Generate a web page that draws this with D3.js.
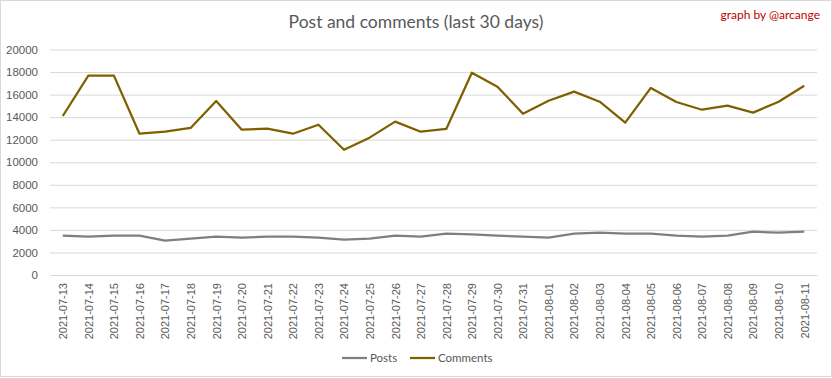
<!DOCTYPE html>
<html>
<head>
<meta charset="utf-8">
<script src="https://cdn.jsdelivr.net/npm/d3@7"></script>
<style>
  body { margin: 0; background: #fff; }
  svg { display: block; font-family: Lato, "Open Sans", sans-serif; }
</style>
</head>
<body>
<svg width="832" height="378"></svg>
<script>
const dates = ["2021-07-13","2021-07-14","2021-07-15","2021-07-16","2021-07-17","2021-07-18","2021-07-19","2021-07-20",
  "2021-07-21","2021-07-22","2021-07-23","2021-07-24","2021-07-25","2021-07-26","2021-07-27","2021-07-28",
  "2021-07-29","2021-07-30","2021-07-31","2021-08-01","2021-08-02","2021-08-03","2021-08-04","2021-08-05",
  "2021-08-06","2021-08-07","2021-08-08","2021-08-09","2021-08-10","2021-08-11"];

const posts = [3490,3400,3490,3490,3040,3220,3400,3310,3400,3400,3310,3130,3220,3490,3400,3660,
  3610,3490,3400,3310,3660,3750,3660,3660,3490,3400,3490,3840,3750,3840];

const comments = [14100,17680,17680,12530,12710,13040,15430,12890,12980,12530,13330,11110,12180,13600,12710,12950,
  17940,16700,14310,15460,16260,15370,13510,16590,15340,14660,15020,14400,15370,16790];

const yTicks = [0,2000,4000,6000,8000,10000,12000,14000,16000,18000,20000];

const title = "Post and comments (last 30 days)";
const credit = "graph by @arcange";

const width = 832, height = 378;
const margin = { left: 50, right: 15, top: 49.5, bottom: 103 };

const svg = d3.select("svg");

// outer border
svg.append("rect")
  .attr("x", 0.5).attr("y", 0.5)
  .attr("width", width - 1).attr("height", height - 2)
  .attr("fill", "#fff").attr("stroke", "#d9d9d9");

const x = d3.scalePoint().domain(dates)
  .range([margin.left, width - margin.right]).padding(0.5);
const y = d3.scaleLinear().domain([0, 20000])
  .range([height - margin.bottom, margin.top]);

// y grid + labels
const yAxis = d3.axisLeft(y).tickValues(yTicks).tickFormat(d3.format("d"))
  .tickSize(-(width - margin.left - margin.right)).tickPadding(12);
const gy = svg.append("g").attr("transform", `translate(${margin.left},0)`).call(yAxis);
gy.select(".domain").remove();
gy.selectAll("line").attr("stroke", "#d9d9d9");
gy.selectAll("text").attr("fill", "#595959").style("font-size", "11.5px");

// x axis line + labels
const xAxis = d3.axisBottom(x).tickSize(0).tickPadding(0);
const gx = svg.append("g").attr("transform", `translate(0,${y(0)})`).call(xAxis);
gx.select(".domain").attr("stroke", "#d9d9d9");
gx.selectAll("text")
  .attr("transform", "rotate(-90)")
  .attr("text-anchor", "end")
  .attr("x", -8).attr("y", 0).attr("dy", "0.35em")
  .attr("fill", "#595959")
  .style("font-size", "11px");

const line = vals => d3.line()
  .x((d, i) => x(dates[i]))
  .y(d => y(d))(vals);

svg.append("path").attr("fill", "none").attr("stroke", "#7f7f7f")
  .attr("stroke-width", 2.25).attr("stroke-linejoin", "round").attr("d", line(posts));
svg.append("path").attr("fill", "none").attr("stroke", "#7f6000")
  .attr("stroke-width", 2.25).attr("stroke-linejoin", "round").attr("d", line(comments));

// title
svg.append("text")
  .attr("x", 416).attr("y", 28)
  .attr("text-anchor", "middle")
  .attr("fill", "#595959")
  .style("font-size", "17.5px")
  .text(title);

svg.append("text")
  .attr("x", 820).attr("y", 19)
  .attr("text-anchor", "end")
  .attr("fill", "#c00000")
  .style("font-size", "12px")
  .text(credit);

// legend
const legend = [
  { name: "Posts", color: "#7f7f7f", x: 342 },
  { name: "Comments", color: "#7f6000", x: 410 }
];
const lg = svg.append("g").selectAll("g").data(legend).join("g")
  .attr("transform", d => `translate(${d.x},358)`);
lg.append("line").attr("x1", 0).attr("x2", 25).attr("stroke", d => d.color).attr("stroke-width", 2.25);
lg.append("text").attr("x", 28).attr("dy", "0.35em")
  .attr("fill", "#595959").style("font-size", "11.5px").text(d => d.name);
</script>
</body>
</html>
